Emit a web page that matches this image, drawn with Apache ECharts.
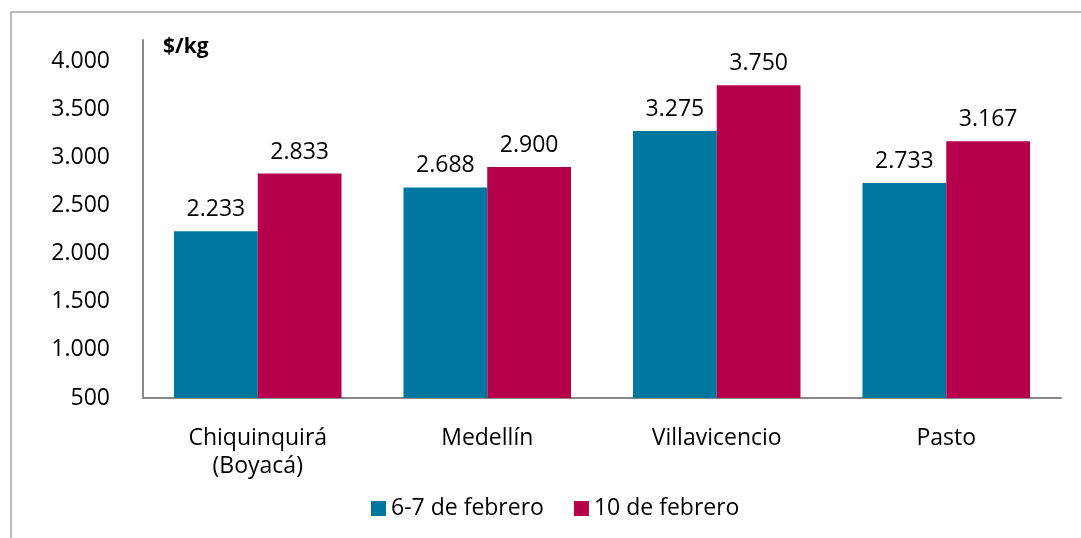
<!DOCTYPE html>
<html>
<head>
<meta charset="utf-8">
<script src="https://cdn.jsdelivr.net/npm/echarts@6/dist/echarts.min.js"></script>
<style>
  html, body { margin: 0; padding: 0; background: #fff; }
  #chart { width: 1081px; height: 538px; }
</style>
</head>
<body>
<div id="chart"></div>
<script>
const categories = ['Chiquinquirá\n(Boyacá)', 'Medellín', 'Villavicencio', 'Pasto']
const seriesNames = ['6-7 de febrero', '10 de febrero']
const valuesFeb6 = [2233, 2688, 3275, 2733]
const valuesFeb10 = [2833, 2900, 3750, 3167]
const yTicks = [500, 1000, 1500, 2000, 2500, 3000, 3500, 4000]

const font = '"Open Sans", "Noto Sans", sans-serif'
const blue = '#00779F'
const red = '#B7004C'

// miles con punto: 2233 -> 2.233
function fmt(v) {
  return String(v).replace(/\B(?=(\d{3})+(?!\d))/g, '.')
}

const chart = echarts.init(document.getElementById('chart'))

const barLabel = {
  show: true,
  position: 'top',
  distance: 10,
  color: '#000',
  fontFamily: font,
  fontSize: 23,
  formatter: p => fmt(p.value)
}

chart.setOption({
  animation: false,
  title: {
    text: '$/kg',
    left: 158,
    top: 32,
    textStyle: { fontFamily: font, fontSize: 21, fontWeight: 'bold', color: '#000' }
  },
  graphic: [{
    type: 'rect',
    shape: { x: 11, y: 12, width: 1200, height: 700 },
    style: { fill: 'none', stroke: '#A6A6A6', lineWidth: 1.5 },
    silent: true
  }],
  grid: { left: 143, right: 20, top: 40, bottom: 140 },
  legend: {
    left: 366,
    top: 492,
    itemWidth: 15,
    itemHeight: 15,
    itemGap: 30,
    icon: 'rect',
    textStyle: { fontFamily: font, fontSize: 23, color: '#000', padding: [0, 0, 0, 0] },
    data: seriesNames
  },
  xAxis: {
    type: 'category',
    data: categories,
    axisLine: { lineStyle: { color: '#888', width: 2 } },
    axisTick: { show: false },
    axisLabel: {
      color: '#000',
      fontFamily: font,
      fontSize: 23,
      lineHeight: 28,
      margin: 26,
      interval: 0
    }
  },
  yAxis: {
    type: 'value',
    min: 500,
    max: 4220,
    interval: 500,
    splitLine: { show: false },
    axisLine: { show: true, lineStyle: { color: '#888', width: 2 } },
    axisTick: { show: false },
    axisLabel: {
      color: '#000',
      fontFamily: font,
      fontSize: 23,
      margin: 33,
      formatter: v => yTicks.includes(v) ? fmt(v) : ''
    }
  },
  series: [
    {
      name: seriesNames[0],
      type: 'bar',
      data: valuesFeb6,
      itemStyle: { color: blue },
      barGap: '0%',
      barCategoryGap: '27%',
      label: barLabel
    },
    {
      name: seriesNames[1],
      type: 'bar',
      data: valuesFeb10,
      itemStyle: { color: red },
      label: barLabel
    }
  ]
})
</script>
</body>
</html>
